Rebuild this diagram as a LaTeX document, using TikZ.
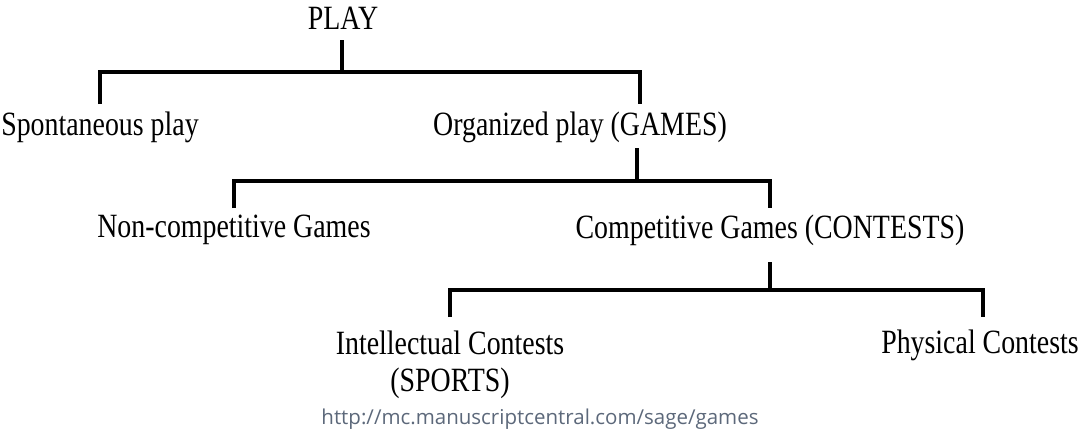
\documentclass[tikz,border=0pt]{standalone}
\usepackage{fontspec}
\setmainfont{Liberation Serif}
\newfontfamily\labelfont{Liberation Serif}[FakeStretch=0.82]
\newfontfamily\urlfont{Open Sans}
\usepackage{tikz}
\definecolor{urlgray}{RGB}{92,104,122}

\begin{document}
\begin{tikzpicture}[x=1pt, y=-1pt,
  every node/.style={inner sep=0pt},
  category/.style={font=\labelfont\fontsize{34}{37}\selectfont, align=center},
  branch/.style={line width=3.5pt}]
  \useasboundingbox (0,0) rectangle (1082,434);
  % labels
  \node[category] (play) at (343,18) {PLAY};
  \node[category] (spont) at (100,127) {Spontaneous play};
  \node[category] (organized) at (580,127) {Organized play (GAMES)};
  \node[category] (noncomp) at (234,230) {Non-competitive Games};
  \node[category] (comp) at (770,230) {Competitive Games (CONTESTS)};
  \node[category, anchor=north] (intel) at (450,331) {Intellectual Contests\\(SPORTS)};
  \node[category] (physical) at (980,345) {Physical Contests};
  \node[font=\urlfont\fontsize{20.5}{24}\selectfont, text=urlgray] (source) at (540,419)
    {http://mc.manuscriptcentral.com/sage/games};
  % first split
  \coordinate (play-stem) at (342,40);
  \coordinate (play-bar) at (342,72);
  \coordinate (spont-end) at (100,104);
  \coordinate (organized-end) at (640,104);
  \draw[branch] (play-stem) -- (play-bar);
  \draw[branch] (spont-end) |- (play-bar) -| (organized-end);
  % second split
  \coordinate (organized-stem) at (637,148);
  \coordinate (organized-bar) at (637,181);
  \coordinate (noncomp-end) at (234,208);
  \coordinate (comp-end) at (770,208);
  \draw[branch] (organized-stem) -- (organized-bar);
  \draw[branch] (noncomp-end) |- (organized-bar) -| (comp-end);
  % third split
  \coordinate (comp-stem) at (770,262);
  \coordinate (comp-bar) at (770,290);
  \coordinate (intel-end) at (450,317);
  \coordinate (physical-end) at (983,317);
  \draw[branch] (comp-stem) -- (comp-bar);
  \draw[branch] (intel-end) |- (comp-bar) -| (physical-end);
\end{tikzpicture}
\end{document}
